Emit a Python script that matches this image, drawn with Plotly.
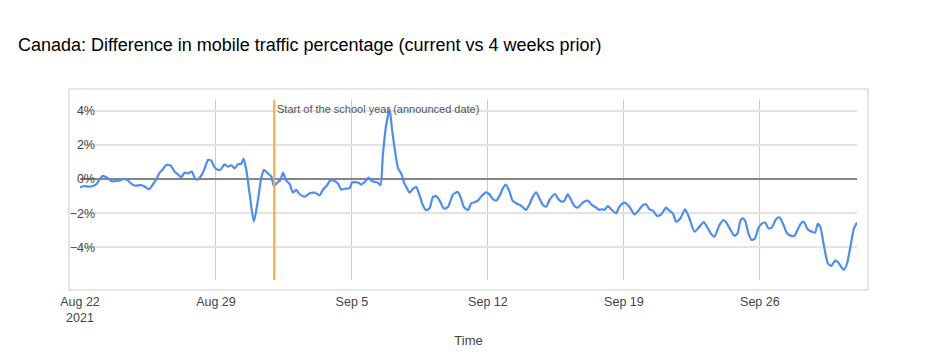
import pandas as pd
import plotly.graph_objects as go

# ---- data ----
start_date = "2021-08-22"
days_since_start = [
    0.00, 0.24, 0.41, 0.67, 0.84, 1.01, 1.18, 1.44, 1.61, 1.87, 2.04, 2.30, 2.47, 2.73, 2.90,
    3.16, 3.33, 3.55, 3.76, 3.93, 4.10, 4.27, 4.44, 4.67, 4.87, 5.04, 5.21, 5.39, 5.56, 5.76,
    5.93, 6.07, 6.28, 6.42, 6.59, 6.76, 6.93, 7.10, 7.27, 7.44, 7.61, 7.79, 7.96, 8.13, 8.30,
    8.42, 8.56, 8.73, 8.95, 9.16, 9.33, 9.47, 9.67, 9.85, 9.98, 10.19, 10.32, 10.45, 10.62,
    10.79, 10.96, 11.13, 11.30, 11.56, 11.82, 12.08, 12.33, 12.50, 12.73, 12.90, 13.10, 13.28,
    13.45, 13.62, 13.88, 14.00, 14.14, 14.31, 14.48, 14.65, 14.86, 15.00, 15.16, 15.33, 15.47,
    15.59, 15.76, 15.94, 16.06, 16.20, 16.37, 16.54, 16.68, 16.80, 16.97, 17.14, 17.31, 17.48,
    17.65, 17.82, 18.00, 18.17, 18.34, 18.51, 18.73, 18.94, 19.20, 19.45, 19.62, 19.76, 19.97,
    20.14, 20.31, 20.48, 20.65, 20.91, 21.08, 21.25, 21.42, 21.60, 21.77, 21.91, 22.10, 22.27,
    22.45, 22.70, 22.96, 23.14, 23.31, 23.48, 23.65, 23.83, 24.00, 24.17, 24.46, 24.63, 24.80,
    24.94, 25.11, 25.28, 25.45, 25.63, 25.88, 26.14, 26.35, 26.57, 26.74, 26.87, 27.00, 27.17,
    27.34, 27.60, 27.77, 28.02, 28.28, 28.54, 28.71, 28.93, 29.14, 29.31, 29.49, 29.71, 29.92,
    30.17, 30.34, 30.52, 30.69, 30.91, 31.15, 31.37, 31.63, 31.89, 32.11, 32.32, 32.49, 32.66,
    32.92, 33.14, 33.30, 33.50, 33.69, 33.85, 34.00, 34.12, 34.24, 34.41, 34.58, 34.75, 34.92,
    35.06, 35.27, 35.44, 35.61, 35.83, 36.00, 36.18, 36.40, 36.61, 36.78, 36.95, 37.12, 37.26,
    37.46, 37.67, 37.84, 37.98, 38.12, 38.29, 38.50, 38.67, 38.87, 39.04, 39.18, 39.32, 39.49,
    39.66, 39.83, 40.00,
]
traffic_diff_pct = [
    -0.49, -0.41, -0.45, -0.41, -0.31, -0.02, 0.18, 0.04, -0.12, -0.12, -0.08, 0.00, -0.10, -0.35, -0.39,
    -0.35, -0.45, -0.60, -0.31, -0.02, 0.37, 0.57, 0.82, 0.78, 0.43, 0.27, 0.10, 0.37, 0.33, 0.43,
    0.00, -0.02, 0.27, 0.62, 1.11, 1.07, 0.68, 0.53, 0.58, 0.86, 0.72, 0.80, 0.62, 0.86, 0.88,
    1.19, 0.53, -0.84, -2.50, -1.23, 0.04, 0.53, 0.33, 0.14, -0.41, -0.18, -0.06, 0.37, -0.10,
    -0.29, -0.80, -0.64, -0.88, -1.03, -0.84, -0.80, -0.96, -0.64, -0.35, -0.06, -0.12, -0.27,
    -0.62, -0.57, -0.53, -0.21, -0.18, -0.21, -0.33, -0.18, 0.08, -0.10, -0.18, -0.21, -0.37,
    1.38, 3.14, 4.07, 2.94, 1.77, 0.64, 0.31, -0.21, -0.47, -0.80, -0.57, -0.47, -0.96,
    -1.54, -1.83, -1.70, -1.05, -1.01, -1.25, -1.73, -1.64, -0.92, -0.76, -1.15, -1.64, -1.82,
    -1.42, -1.36, -1.27, -1.03, -0.78, -0.90, -1.17, -1.27, -0.99, -0.55, -0.33, -0.70, -1.27,
    -1.42, -1.56, -1.81, -1.48, -1.03, -0.78, -1.13, -1.52, -1.62, -1.23, -0.88, -1.19, -1.33,
    -1.27, -0.90, -1.23, -1.58, -1.68, -1.38, -1.27, -1.52, -1.68, -1.81, -1.77, -1.81, -1.58,
    -1.77, -2.01, -1.62, -1.38, -1.62, -2.07, -1.91, -1.58, -1.48, -1.77, -1.85, -2.16, -2.07,
    -1.68, -1.85, -2.01, -2.50, -2.30, -1.77, -2.30, -3.08, -2.79, -2.53, -2.88, -3.22, -3.37,
    -2.69, -2.40, -2.60, -3.00, -3.33, -3.18, -2.44, -2.30, -2.44, -3.18, -3.57, -3.47, -2.88,
    -2.65, -2.55, -2.88, -2.85, -2.36, -2.24, -2.59, -3.18, -3.33, -3.33, -2.94, -2.59, -2.50,
    -2.94, -3.08, -3.14, -2.63, -2.83, -3.86, -4.93, -5.09, -4.78, -4.89, -5.13, -5.32, -4.93,
    -3.96, -2.94, -2.55,
]
event_date = "2021-09-01"
event_label = "Start of the school year (announced date)"
x_tick_dates = ["2021-08-22", "2021-08-29", "2021-09-05", "2021-09-12", "2021-09-19", "2021-09-26"]
x_tick_labels = ["Aug 22<br>2021", "Aug 29", "Sep 5", "Sep 12", "Sep 19", "Sep 26"]
y_tick_values = [4, 2, 0, -2, -4]
y_tick_labels = ["4%", "2%", "0%", "\u22122%", "\u22124%"]
title_text = "Canada: Difference in mobile traffic percentage (current vs 4 weeks prior)"
x_title = "Time"

# ---- build ----
times = pd.Timestamp(start_date) + pd.to_timedelta(days_since_start, unit="D")

FONT = "Liberation Sans, Arial, Helvetica, sans-serif"
# the page adds an 8px body margin, so the figure is laid out 8px up/left
W, H = 937, 360
OFF = 8

fig = go.Figure()
fig.add_trace(go.Scatter(
    x=times, y=traffic_diff_pct, mode="lines",
    line=dict(color="#4c8cf4", width=2.2, shape="spline", smoothing=0.6),
    hoverinfo="x+y", showlegend=False,
))

# event vertical line
fig.add_shape(type="line", xref="x", yref="paper",
              x0=event_date, x1=event_date, y0=0, y1=1,
              line=dict(color="#f8a93b", width=2))
fig.add_annotation(x=event_date, y=1, xref="x", yref="paper",
                   text=event_label, showarrow=False,
                   xanchor="left", yanchor="top", xshift=1, yshift=-1,
                   font=dict(family=FONT, size=11, color="#555555"))

# outer frame
fig.add_shape(type="rect", xref="paper", yref="paper",
              x0=-0.0142, x1=1.0142, y0=-0.0556, y1=1.061,
              line=dict(color="#cccccc", width=1), fillcolor="rgba(0,0,0,0)",
              layer="below")

fig.update_layout(
    width=W, height=H,
    margin=dict(l=80 - OFF, r=80 + OFF, t=100 - OFF, b=80 + OFF),
    paper_bgcolor="white", plot_bgcolor="white",
    font=dict(family=FONT, size=12, color="#444444"),
    title=dict(text=title_text, x=(18 - OFF) / W, xanchor="left", xref="container",
               y=1 - (45 - OFF) / H, yanchor="middle", yref="container",
               font=dict(family=FONT, size=18, color="#000000")),
    xaxis=dict(
        type="date",
        range=[pd.Timestamp(start_date), pd.Timestamp(start_date) + pd.Timedelta(days=40)],
        tickvals=x_tick_dates, ticktext=x_tick_labels,
        showgrid=True, gridcolor="#cccccc", gridwidth=1,
        zeroline=False, showline=False, ticks="",
        ticklabelstandoff=12,
        tickfont=dict(family=FONT, size=12.5, color="#444444"),
        title=dict(text=x_title, standoff=12,
                   font=dict(family=FONT, size=13, color="#444444")),
    ),
    yaxis=dict(
        range=[-5.91, 4.62],
        tickvals=y_tick_values, ticktext=y_tick_labels,
        showgrid=True, gridcolor="#e3e3e3", gridwidth=1.5,
        zeroline=True, zerolinecolor="#858585", zerolinewidth=2.2,
        showline=False, ticks="",
        ticklabelstandoff=-16,
        tickfont=dict(family=FONT, size=12.5, color="#444444"),
    ),
)

fig.write_html("out.html")
